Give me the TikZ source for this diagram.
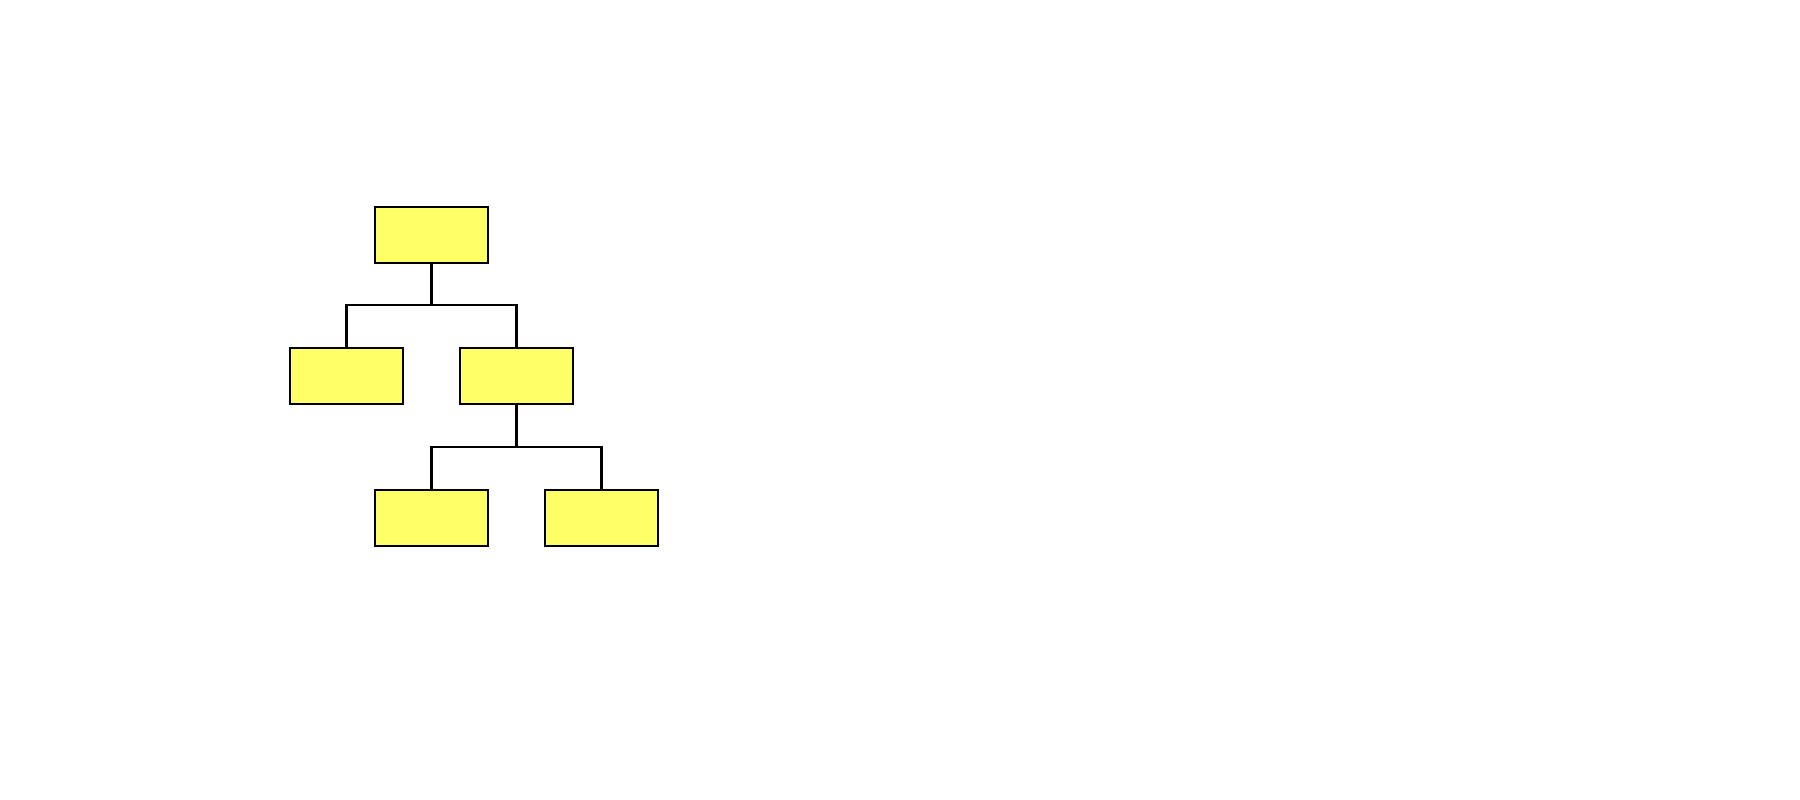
\documentclass[tikz,border=0pt]{standalone}
\begin{document}
\begin{tikzpicture}[x=0.02cm,y=-0.02cm,
  box/.style={draw=black,fill={rgb,255:red,255;green,255;blue,102},line width=1.3pt,minimum width=2.26cm,minimum height=1.12cm,inner sep=0pt,line join=miter},
  conn/.style={draw=black,line width=1.4pt}]
\useasboundingbox (0,0) rectangle (1800,800);
\node[box] (top) at (431.5,235) {};
\node[box] (l) at (346.5,376) {};
\node[box] (r) at (516.5,376) {};
\node[box] (bl) at (431.5,518) {};
\node[box] (br) at (601.5,518) {};
\coordinate (j1) at (431.5,305);
\coordinate (j2) at (516.5,447);
\draw[conn] (top.south) -- (j1) -| (l.north);
\draw[conn] (j1) -| (r.north);
\draw[conn] (r.south) -- (j2) -| (bl.north);
\draw[conn] (j2) -| (br.north);
\end{tikzpicture}
\end{document}
